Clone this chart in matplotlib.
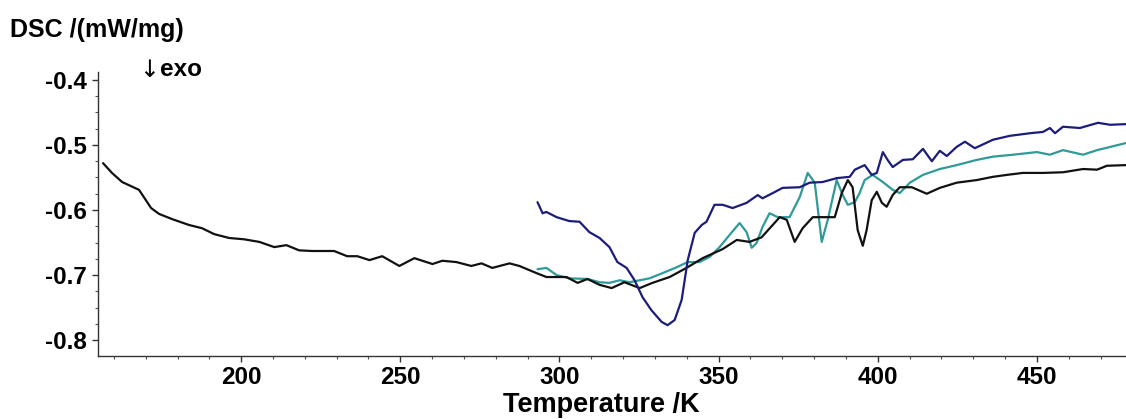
import matplotlib
matplotlib.use("Agg")
import matplotlib.pyplot as plt
from matplotlib.ticker import MultipleLocator

# ---- data ----
black_T = [156.6, 159.4, 162.6, 167.9, 171.7, 174.2, 178.3, 183.6, 187.7, 191.5, 196.2, 200.9,
           205.7, 210.4, 214.2, 218.2, 222.3, 229.2, 233.3, 236.5, 240.3, 244.3, 249.7, 254.4,
           260.1, 263.2, 267.6, 272.3, 275.5, 278.9, 284.3, 287.4, 292.8, 295.9, 302.2, 305.7,
           308.8, 312.6, 316.4, 320.4, 325.2, 329.2, 334.6, 339.9, 345.0, 351.3, 355.7, 359.7,
           363.5, 367.0, 369.2, 371.4, 373.9, 376.4, 379.6, 384.0, 386.5, 388.7, 390.6, 392.1,
           393.7, 395.3, 396.5, 398.1, 399.7, 401.3, 402.8, 404.7, 406.9, 410.7, 415.4, 419.5,
           424.8, 431.1, 436.2, 440.6, 445.6, 451.9, 458.2, 464.5, 468.9, 472.0, 478.0]
black_V = [-0.528, -0.543, -0.557, -0.569, -0.597, -0.606, -0.614, -0.623, -0.628, -0.637, -0.643, -0.645,
           -0.649, -0.657, -0.654, -0.662, -0.663, -0.663, -0.671, -0.671, -0.677, -0.671, -0.686, -0.674,
           -0.683, -0.678, -0.680, -0.686, -0.682, -0.689, -0.682, -0.686, -0.697, -0.703, -0.703, -0.712,
           -0.706, -0.715, -0.720, -0.711, -0.720, -0.712, -0.703, -0.689, -0.674, -0.660, -0.646, -0.649,
           -0.642, -0.623, -0.611, -0.615, -0.649, -0.628, -0.611, -0.611, -0.611, -0.574, -0.554, -0.565,
           -0.631, -0.655, -0.631, -0.585, -0.572, -0.589, -0.595, -0.577, -0.565, -0.565, -0.575, -0.566,
           -0.558, -0.554, -0.549, -0.546, -0.543, -0.543, -0.542, -0.537, -0.538, -0.532, -0.531]

blue_T = [293.1, 294.7, 295.9, 299.1, 303.1, 306.3, 309.4, 312.6, 315.7, 318.2, 321.1, 323.6,
          326.1, 328.9, 332.1, 334.0, 336.2, 338.4, 340.3, 342.5, 344.7, 346.2, 348.7, 351.3,
          354.4, 358.8, 362.3, 363.8, 367.0, 370.1, 375.5, 378.6, 382.7, 387.1, 391.2, 392.8,
          395.9, 398.1, 399.7, 401.6, 403.1, 404.7, 407.9, 411.0, 414.2, 417.0, 419.5, 421.7,
          424.8, 427.4, 430.5, 436.2, 441.5, 447.8, 451.9, 454.1, 455.7, 458.2, 463.5, 469.2,
          473.0, 478.0]
blue_V = [-0.588, -0.605, -0.603, -0.611, -0.617, -0.618, -0.634, -0.643, -0.657, -0.680, -0.689, -0.708,
          -0.734, -0.754, -0.772, -0.777, -0.769, -0.738, -0.677, -0.635, -0.623, -0.618, -0.592, -0.592,
          -0.597, -0.589, -0.577, -0.582, -0.574, -0.566, -0.565, -0.558, -0.557, -0.551, -0.549, -0.538,
          -0.531, -0.546, -0.543, -0.511, -0.523, -0.534, -0.523, -0.522, -0.506, -0.525, -0.509, -0.517,
          -0.503, -0.495, -0.505, -0.492, -0.486, -0.482, -0.480, -0.474, -0.482, -0.472, -0.474, -0.466,
          -0.469, -0.468]

teal_T = [293.1, 295.9, 299.1, 303.1, 308.8, 312.6, 315.7, 318.9, 322.0, 325.2, 328.3, 332.4,
          336.8, 340.3, 344.0, 347.2, 350.3, 353.5, 356.6, 358.8, 360.4, 361.9, 363.8, 366.0,
          368.6, 372.3, 375.5, 378.0, 380.2, 382.4, 384.3, 387.1, 389.0, 390.6, 392.8, 394.3,
          395.9, 398.4, 401.6, 404.7, 406.9, 410.1, 414.2, 419.5, 424.8, 431.1, 436.2, 442.5,
          450.0, 454.1, 458.2, 464.5, 468.9, 473.9, 478.0]
teal_V = [-0.691, -0.689, -0.700, -0.705, -0.706, -0.711, -0.712, -0.708, -0.711, -0.708, -0.705, -0.697,
          -0.688, -0.680, -0.680, -0.672, -0.657, -0.638, -0.620, -0.634, -0.658, -0.651, -0.626, -0.605,
          -0.611, -0.611, -0.580, -0.543, -0.558, -0.649, -0.615, -0.554, -0.577, -0.592, -0.588, -0.574,
          -0.554, -0.546, -0.557, -0.569, -0.574, -0.558, -0.546, -0.537, -0.531, -0.523, -0.518, -0.515,
          -0.511, -0.515, -0.508, -0.515, -0.508, -0.502, -0.497]

x_ticks = [200, 250, 300, 350, 400, 450]
y_ticks = [-0.8, -0.7, -0.6, -0.5, -0.4]

# ---- figure ----
plt.rcParams['font.family'] = ['Liberation Sans', 'DejaVu Sans']
fig = plt.figure(figsize=(11.26, 4.19), dpi=100)
ax = fig.add_axes([0.087, 0.150, 0.913, 0.678])

line_kw = dict(lw=1.6, solid_joinstyle='round', solid_capstyle='round')
ax.plot(black_T, black_V, color='#111111', zorder=3, **line_kw)
ax.plot(teal_T, teal_V, color='#2f9a98', zorder=2, **line_kw)
ax.plot(blue_T, blue_V, color='#1c1c7c', zorder=4, **line_kw)

ax.set_xlim(155, 478)
ax.set_ylim(-0.8246, -0.388)
ax.set_xticks(x_ticks)
ax.set_yticks(y_ticks)
ax.set_yticklabels([f"{v:.1f}" for v in y_ticks])
ax.xaxis.set_minor_locator(MultipleLocator(10))
ax.yaxis.set_minor_locator(MultipleLocator(0.025))

for s in ['top', 'right']:
    ax.spines[s].set_visible(False)
for s in ['left', 'bottom']:
    ax.spines[s].set_color('#333333')
    ax.spines[s].set_linewidth(1.0)

ax.tick_params(axis='both', which='major', length=4, width=1, color='#333333',
               labelsize=17.5, pad=4)
ax.tick_params(axis='both', which='minor', length=2.5, width=0.8, color='#555555')
ax.tick_params(axis='x', which='major', pad=3)
for lab in ax.get_xticklabels() + ax.get_yticklabels():
    lab.set_fontweight('bold')

fig.text(0.009, 0.928, "DSC /(mW/mg)", fontsize=18, fontweight='bold', va='center', ha='left')
fig.text(0.124, 0.833, "↓", fontsize=17, va='center', ha='left',
         family=['DejaVu Sans'])
fig.text(0.142, 0.833, "exo", fontsize=17.5, fontweight='bold', va='center', ha='left')
fig.text(0.534, 0.034, "Temperature /K", fontsize=19.5, fontweight='bold', va='center', ha='center')

fig.savefig("out.png", dpi=100)
